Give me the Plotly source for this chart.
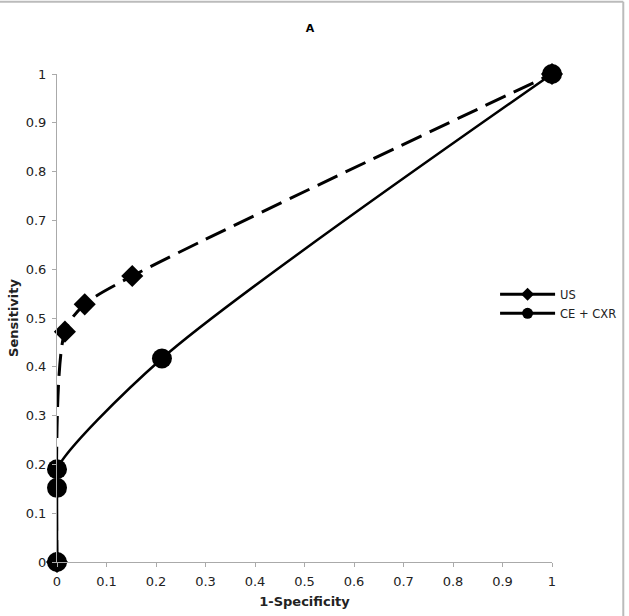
import plotly.graph_objects as go

us_x = [0, 0.016, 0.056, 0.152, 1]
us_y = [0, 0.472, 0.528, 0.586, 1]
ce_x = [0, 0, 0, 0.212, 1]
ce_y = [0, 0.152, 0.19, 0.417, 1]
tick_vals = [0, 0.1, 0.2, 0.3, 0.4, 0.5, 0.6, 0.7, 0.8, 0.9, 1]
tick_text = ["0", "0.1", "0.2", "0.3", "0.4", "0.5", "0.6", "0.7", "0.8", "0.9", "1"]

FONT = "DejaVu Sans"

fig = go.Figure()
fig.add_trace(go.Scatter(
    x=us_x, y=us_y, mode="lines+markers", showlegend=False, cliponaxis=False,
    line=dict(color="black", width=3, dash="22px,9px", shape="spline", smoothing=0.8),
    marker=dict(symbol="diamond", size=17, color="black"),
))
fig.add_trace(go.Scatter(
    x=ce_x, y=ce_y, mode="lines+markers", showlegend=False, cliponaxis=False,
    line=dict(color="black", width=2.5, shape="spline", smoothing=0.8),
    marker=dict(symbol="circle", size=20, color="black"),
))
# legend entries
fig.add_trace(go.Scatter(
    x=[None], y=[None], mode="lines+markers", name="US",
    line=dict(color="black", width=3),
    marker=dict(symbol="diamond", size=10, color="black"),
))
fig.add_trace(go.Scatter(
    x=[None], y=[None], mode="lines+markers", name="CE + CXR",
    line=dict(color="black", width=3),
    marker=dict(symbol="circle", size=11, color="black"),
))

axis_common = dict(
    showgrid=False, zeroline=False, showline=True, linecolor="#aaaaaa", linewidth=1,
    ticks="outside", ticklen=4, tickcolor="#aaaaaa", automargin=False,
    ticklabelstandoff=3,
    tickfont=dict(family=FONT, size=13, color="#222222"),
    tickvals=tick_vals, ticktext=tick_text,
)
fig.update_xaxes(range=[0, 1], title=dict(text="<b>1-Specificity</b>", font=dict(family=FONT, size=13, color="#222"), standoff=9), **axis_common)
fig.update_yaxes(range=[0, 1], title=dict(text="<b>Sensitivity</b>", font=dict(family=FONT, size=13, color="#222"), standoff=4), **axis_common)

fig.update_layout(
    width=629, height=616,
    margin=dict(l=57, r=77, t=74, b=54, autoexpand=False),
    paper_bgcolor="white", plot_bgcolor="white",
    title=dict(text="<b>A</b>", x=0.493, xanchor="center", y=0.955, yanchor="middle",
               font=dict(family=FONT, size=11, color="black"), automargin=False),
    legend=dict(x=0.885, y=0.529, xanchor="left", yanchor="middle", bgcolor="rgba(0,0,0,0)",
                font=dict(family=FONT, size=11.5, color="#222"), tracegroupgap=0,
                itemwidth=55),
    showlegend=True,
    shapes=[
        dict(type="line", xref="paper", yref="paper", x0=-0.116, x1=1.144, y0=1.148, y1=1.148,
             line=dict(color="#bbbbbb", width=2)),
        dict(type="line", xref="paper", yref="paper", x0=1.144, x1=1.144, y0=1.148, y1=-0.12,
             line=dict(color="#bbbbbb", width=2)),
    ],
)

fig.write_html("out.html")
